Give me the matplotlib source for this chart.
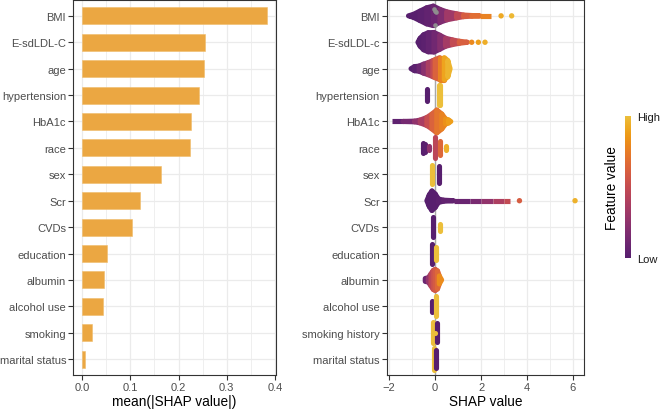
import numpy as np
import matplotlib
matplotlib.use("Agg")
import matplotlib.pyplot as plt
from matplotlib.colors import ListedColormap
from matplotlib.patches import Polygon

plt.rcParams['font.family'] = ['Liberation Sans', 'DejaVu Sans']

# ---- data ----
bar_features = ['BMI', 'E-sdLDL-C', 'age', 'hypertension', 'HbA1c', 'race', 'sex',
                'Scr', 'CVDs', 'education', 'albumin', 'alcohol use', 'smoking',
                'marital status']
bar_values = [0.384, 0.255, 0.253, 0.242, 0.226, 0.224, 0.164,
              0.120, 0.104, 0.051, 0.046, 0.044, 0.021, 0.006]

swarm_features = ['BMI', 'E-sdLDL-c', 'age', 'hypertension', 'HbA1c', 'race', 'sex',
                  'Scr', 'CVDs', 'education', 'albumin', 'alcohol use',
                  'smoking history', 'marital status']

# swarm outlines: each piece is a list of (SHAP value, half height in px, feature value 0..1)
# a piece with one entry is a single column of stacked points
swarm_bmi = [[(-1.16, 0, 0.0), (-0.95, 1.4, 0.0), (-0.66, 4.7, 0.02), (-0.37, 8, 0.04),
              (-0.08, 9.7, 0.06), (0.21, 6.4, 0.12), (0.5, 4, 0.25), (0.93, 2, 0.4),
              (1.23, 0.8, 0.55), (1.6, 0.3, 0.65), (1.95, 0, 0.72), (2.45, 0, 0.82)]]
swarm_ldl = [[(-0.75, 0, 0.0), (-0.65, 4, 0.0), (-0.5, 7.5, 0.02), (-0.3, 9.5, 0.04),
              (-0.05, 9.7, 0.08), (0.2, 7, 0.15), (0.45, 4, 0.27), (0.75, 2.3, 0.42),
              (1.05, 1, 0.55), (1.41, 0, 0.68)]]
swarm_age = [[(-1.05, 0, 0.0), (-0.9, 2, 0.0), (-0.7, 2.5, 0.05), (-0.5, 4.5, 0.15),
              (-0.3, 6, 0.3), (-0.1, 8, 0.45), (0.0, 9, 0.55), (0.2, 11, 0.7),
              (0.4, 11, 0.85), (0.55, 8, 0.95), (0.65, 0, 0.97)]]
swarm_hyper = [[(-0.37, 6, 0.0)], [(0.17, 10.2, 1.0)], [(0.21, 10.2, 1.0)]]
swarm_hba1c = [[(-1.88, 0, 0.0), (-1.4, 0, 0.08), (-0.9, 0.3, 0.2), (-0.65, 1.4, 0.3),
                (-0.36, 4, 0.45), (-0.14, 7.4, 0.58), (0.07, 11.4, 0.68), (0.29, 7.4, 0.75),
                (0.45, 2.5, 0.8), (0.58, 1.5, 0.85), (0.68, 0, 0.9)]]
swarm_race = [[(-0.53, 5.2, 0.0)], [(-0.45, 4, 0.02)], [(-0.27, 2, 0.25)],
              [(0.0, 10.5, 0.45)], [(0.2, 6.7, 0.65)], [(0.48, 2, 0.95)]]
swarm_sex = [[(-0.15, 9.7, 1.0)], [(0.18, 8.7, 0.0)]]
swarm_scr = [[(-0.36, 0, 0.0), (-0.25, 6, 0.0), (-0.14, 9.7, 0.0), (0.0, 6.7, 0.0),
              (0.14, 1.7, 0.02), (0.36, 0.5, 0.04), (0.8, 0, 0.06), (1.5, 0, 0.1),
              (2.0, 0, 0.2), (2.5, 0, 0.33), (3.0, 0, 0.45), (3.26, 0, 0.52)]]
swarm_cvd = [[(-0.11, 10, 0.0)], [(0.2, 3.4, 1.0)]]
swarm_edu = [[(-0.12, 10, 0.0)], [(0.04, 6.7, 1.0)]]
swarm_alb = [[(-0.43, 1.5, 0.02), (-0.3, 2, 0.15), (-0.18, 6, 0.4), (-0.08, 9.5, 0.5),
              (0.0, 10.5, 0.55), (0.1, 9, 0.62), (0.18, 4, 0.7), (0.28, 0, 0.92)]]
swarm_alc = [[(-0.15, 5.2, 0.0)], [(0.04, 10, 1.0)]]
swarm_smk = [[(-0.1, 10.5, 1.0)], [(0.06, 9.5, 0.0)], [(-0.02, 0, 1.0)]]
swarm_mar = [[(-0.07, 11, 1.0)], [(0.04, 8.7, 0.0)]]

# single outlying points: (row, SHAP value, feature value)
dot_rows = [0, 0, 1, 1, 1, 7, 7]
dot_x = [2.87, 3.33, 1.59, 1.88, 2.17, 3.67, 6.09]
dot_c = [0.92, 0.97, 0.8, 0.88, 0.94, 0.6, 0.95]

# points with missing feature value (grey) in BMI row: SHAP value, vertical offset px
na_x = [-0.05, 0.05, 0.0, 0.0]
na_dy = [7, 4, 5, -9]

swarms = [swarm_bmi, swarm_ldl, swarm_age, swarm_hyper, swarm_hba1c, swarm_race, swarm_sex,
          swarm_scr, swarm_cvd, swarm_edu, swarm_alb, swarm_alc, swarm_smk, swarm_mar]

# ---- style ----
bar_color = '#EBA742'
base = plt.cm.inferno(np.linspace(0.22, 0.87, 256))[:, :3]
muted = 0.85 * base + 0.15 * np.array([0.62, 0.55, 0.5])
cmap = ListedColormap(muted)
grid_col = '#EBEBEB'
tick_col = '#4D4D4D'
row_px = 26.4
dot_d = 3.7  # points

W, H = 661, 410
fig = plt.figure(figsize=(W / 100, H / 100), dpi=100)


def style_axes(ax):
    for s in ax.spines.values():
        s.set_color('#333333')
        s.set_linewidth(0.8)
    ax.tick_params(axis='both', colors='#333333', labelcolor=tick_col, labelsize=8.0,
                   length=3.5, width=0.8, pad=1.5)
    ax.tick_params(which='minor', length=0)
    ax.grid(True, which='major', color=grid_col, lw=0.9, zorder=0)
    ax.grid(True, which='minor', axis='x', color=grid_col, lw=0.55, zorder=0)
    ax.set_axisbelow(True)


n = len(bar_features)
ypos = np.arange(n)[::-1]

# left: importance bars
ax1 = fig.add_axes([73 / W, 34 / H, 203 / W, 375 / H])
ax1.barh(ypos, bar_values, height=0.64, color=bar_color, edgecolor='#F0BC6A', lw=0.4, zorder=2)
ax1.set_yticks(ypos)
ax1.set_yticklabels(bar_features)
ax1.set_xticks([0, 0.1, 0.2, 0.3, 0.4])
ax1.set_xticklabels(['0.0', '0.1', '0.2', '0.3', '0.4'])
ax1.set_xticks([0.05, 0.15, 0.25, 0.35], minor=True)
ax1.set_xlim(-0.0192, 0.4025)
ax1.set_ylim(-0.6, n - 0.4)
ax1.set_xlabel('mean(|SHAP value|)', fontsize=9.8, labelpad=1.5)
style_axes(ax1)

# right: beeswarm
ax2 = fig.add_axes([386.7 / W, 34 / H, 197.3 / W, 375 / H])
ax2.axvline(0, color='#A8A8A8', lw=1.0, zorder=1)
for i, pieces in enumerate(swarms):
    yc = ypos[i]
    for piece in pieces:
        if len(piece) == 1:
            x, h, c = piece[0]
            col = cmap(c)
            if h == 0:
                ax2.scatter([x], [yc], s=dot_d ** 2, color=col, lw=0, zorder=3)
            else:
                ax2.plot([x, x], [yc - h / row_px, yc + h / row_px], color=col, lw=dot_d,
                         solid_capstyle='round', zorder=3)
            continue
        for (x0, h0, c0), (x1, h1, c1) in zip(piece[:-1], piece[1:]):
            col = cmap((c0 + c1) / 2)
            verts = [(x0, yc - h0 / row_px), (x1, yc - h1 / row_px),
                     (x1, yc + h1 / row_px), (x0, yc + h0 / row_px)]
            ax2.add_patch(Polygon(verts, closed=True, facecolor=col, edgecolor=col,
                                  lw=dot_d, joinstyle='round', zorder=3))
ax2.scatter(dot_x, [ypos[r] for r in dot_rows], c=[cmap(c) for c in dot_c],
            s=dot_d ** 2 * 1.1, lw=0, zorder=3)
ax2.scatter(na_x, [ypos[0] + d / row_px for d in na_dy], color='#8E8E8E',
            s=dot_d ** 2 * 0.8, lw=0, zorder=4)
ax2.set_yticks(ypos)
ax2.set_yticklabels(swarm_features)
ax2.set_xticks([-2, 0, 2, 4, 6])
ax2.set_xticks([-1, 1, 3, 5], minor=True)
ax2.set_xlim(-2.11, 6.48)
ax2.set_ylim(-0.6, n - 0.4)
ax2.set_xlabel('SHAP value', fontsize=9.8, labelpad=1.5)
style_axes(ax2)

# colour legend
cax = fig.add_axes([625 / W, (H - 259) / H, 6 / W, 142 / H])
cax.imshow(np.linspace(0, 1, 256).reshape(-1, 1), cmap=cmap, aspect='auto', origin='lower')
cax.set_axis_off()
fig.text(637 / W, 1 - 118 / H, 'High', fontsize=8.0, color='#1A1A1A', ha='left', va='center')
fig.text(637 / W, 1 - 260 / H, 'Low', fontsize=8.0, color='#1A1A1A', ha='left', va='center')
fig.text(612 / W, 1 - 188 / H, 'Feature value', fontsize=9.8, rotation=90,
         ha='center', va='center')

fig.savefig('out.png', dpi=100)
